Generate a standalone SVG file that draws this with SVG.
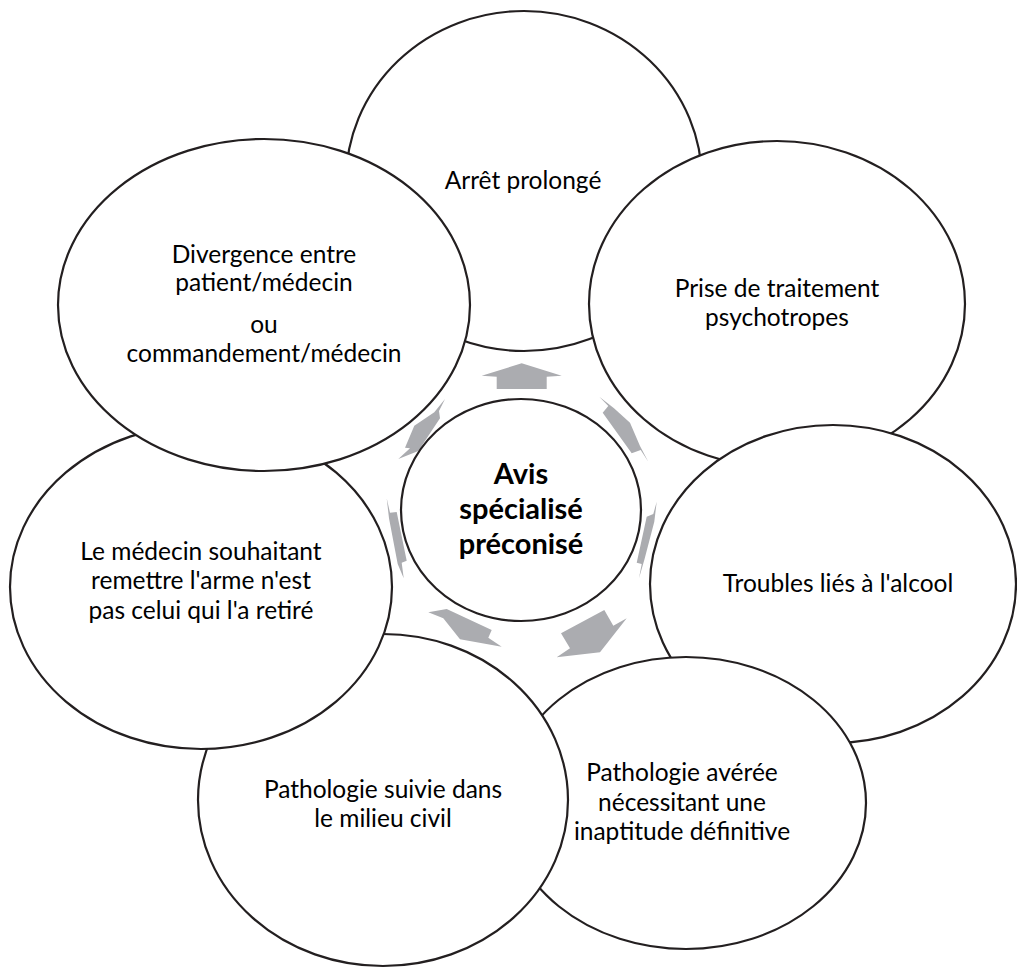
<svg xmlns="http://www.w3.org/2000/svg" width="1017" height="970" viewBox="0 0 1017 970">
<style>
.node ellipse{fill:#fff;stroke:#231f20;stroke-width:2.2}
.t{font-family:Lato,"Liberation Sans",sans-serif;font-size:24.5px;fill:#000;text-anchor:middle}
.c{font-family:Lato,"Liberation Sans",sans-serif;font-size:29px;font-weight:bold;fill:#000;text-anchor:middle}
.arr polygon{fill:#abacb0}
</style>
<rect width="1017" height="970" fill="#fff"/>
<g id="n-arret" class="node">
<ellipse cx="524" cy="181" rx="178" ry="170"/>
<text class="t" x="523" y="189">Arrêt prolongé</text>
</g>
<g id="n-prise" class="node">
<ellipse cx="777" cy="304" rx="188" ry="163"/>
<text class="t" x="777" y="297">Prise de traitement</text>
<text class="t" x="777" y="326">psychotropes</text>
</g>
<g id="n-troubles" class="node">
<ellipse cx="833" cy="584" rx="183" ry="159"/>
<text class="t" x="838" y="592">Troubles liés à l'alcool</text>
</g>
<g id="n-averee" class="node">
<ellipse cx="686" cy="803" rx="180" ry="146"/>
<text class="t" x="682" y="781">Pathologie avérée</text>
<text class="t" x="682" y="811">nécessitant une</text>
<text class="t" x="682" y="840">inaptitude définitive</text>
</g>
<g id="n-suivie" class="node">
<ellipse cx="383" cy="800" rx="185" ry="166"/>
<text class="t" x="383" y="798">Pathologie suivie dans</text>
<text class="t" x="383" y="827">le milieu civil</text>
</g>
<g id="n-medecin" class="node">
<ellipse cx="201" cy="587" rx="191" ry="162"/>
<text class="t" x="201" y="560">Le médecin souhaitant</text>
<text class="t" x="201" y="589">remettre l'arme n'est</text>
<text class="t" x="201" y="619">pas celui qui l'a retiré</text>
</g>
<g id="n-divergence" class="node">
<ellipse cx="264" cy="305" rx="206" ry="166"/>
<text class="t" x="264" y="263">Divergence entre</text>
<text class="t" x="264" y="291">patient/médecin</text>
<text class="t" x="264" y="333">ou</text>
<text class="t" x="264" y="362">commandement/médecin</text>
</g>
<g id="connectors" class="arr">
<polygon points="521.7,363.3 561.7,375.7 546.7,376.7 546.7,389 496.7,389 496.7,376.7 481.7,375.7"/>
<polygon points="599.3,396.7 614,408.3 630,422.7 640,446 648.3,461.7 640.7,450 631.7,453.3 602.7,412.7 608.3,406"/>
<polygon points="656.7,501.7 654.3,521.7 644.3,560 639,578.3 641.7,564 636.7,562.7 646.7,516.7 653.3,514"/>
<polygon points="561,633.3 604.3,610 613.3,625.7 626.7,618.3 600,652.3 556.7,657.3 570,648.3"/>
<polygon points="428.3,612.3 446.7,609 491.7,630 488.3,637.7 501.7,646.7 460,639.3 443.3,618.3"/>
<polygon points="386.7,498.3 390,512.7 396.7,512 406.7,560.7 401.7,562.7 403.7,578.3 397.7,564 389,518.3"/>
<polygon points="445,399 439,411 440,418.3 418.3,451 398.3,459 410,448.3 405,447.7 414.3,425.7 434.3,412.3"/>
</g>
<g id="n-center" class="node">
<ellipse cx="521" cy="510" rx="120" ry="111"/>
<text class="c" x="521" y="484">Avis</text>
<text class="c" x="521" y="519">spécialisé</text>
<text class="c" x="521" y="554">préconisé</text>
</g>
</svg>
